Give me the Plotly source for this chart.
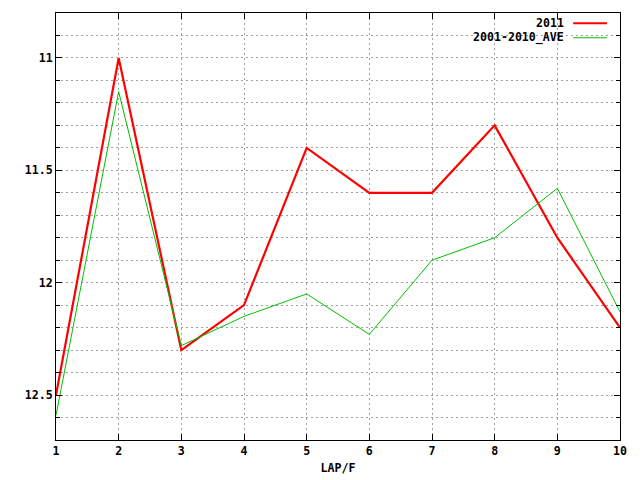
import plotly.graph_objects as go

laps = [1, 2, 3, 4, 5, 6, 7, 8, 9, 10]
series_2011 = [12.5, 11.0, 12.3, 12.1, 11.4, 11.6, 11.6, 11.3, 11.8, 12.2]
series_ave = [12.59, 11.15, 12.28, 12.15, 12.05, 12.23, 11.9, 11.8, 11.58, 12.13]
names = ["2011", "2001-2010_AVE"]
colors = ["#ff0000", "#00c000"]
widths = [2.2, 1]
y_ticks = [11, 11.5, 12, 12.5]
y_tick_text = ["11", "11.5", "12", "12.5"]

FONT = dict(family="DejaVu Sans Mono", size=11.6, color="black")

fig = go.Figure()
for vals, nm, col, w in zip([series_2011, series_ave], names, colors, widths):
    fig.add_trace(go.Scatter(x=laps, y=vals, mode="lines", name=nm,
                             line=dict(color=col, width=w), showlegend=False))

# manual gnuplot-style legend (text left, sample right)
legend_y = [0.976, 0.942]
for nm, col, w, yy in zip(names, colors, widths, legend_y):
    fig.add_annotation(xref="paper", yref="paper", x=0.903, y=yy, text="<b>%s</b>" % nm,
                       showarrow=False, xanchor="right", yanchor="middle", font=FONT,
                       borderpad=0, height=13.5)
    fig.add_shape(type="line", xref="paper", yref="paper", x0=0.917, x1=0.977, y0=yy, y1=yy,
                  line=dict(color=col, width=w))

# page body has an 8px margin: shrink the figure so it lands on the same pixels
fig.update_layout(
    width=632, height=472,
    margin=dict(l=47.5, r=20.3, t=5.3, b=40),
    paper_bgcolor="white", plot_bgcolor="white",
    font=FONT,
    showlegend=False,
)
fig.update_xaxes(
    range=[1, 10], tickmode="linear", tick0=1, dtick=1,
    tickfont=FONT, tickprefix="<b>", ticksuffix="</b>",
    showgrid=True, gridcolor="#a0a0a0", griddash="2px,3px", gridwidth=1,
    showline=True, linecolor="black", linewidth=1, mirror="allticks",
    ticks="inside", ticklen=6, tickcolor="black",
    title=dict(text="<b>LAP/F</b>", font=FONT, standoff=6),
    zeroline=False,
)
fig.update_yaxes(
    range=[12.7, 10.8], tickvals=y_ticks, ticktext=["<b>%s</b>" % t for t in y_tick_text],
    tickfont=FONT,
    showgrid=True, gridcolor="#a0a0a0", griddash="2px,3px", gridwidth=1,
    showline=True, linecolor="black", linewidth=1, mirror="allticks",
    ticks="inside", ticklen=6, tickcolor="black",
    minor=dict(dtick=0.1, tick0=10.8, showgrid=True, gridcolor="#a0a0a0", griddash="2px,3px",
               ticks="inside", ticklen=4, tickcolor="black"),
    zeroline=False,
)

fig.write_html("out.html")
